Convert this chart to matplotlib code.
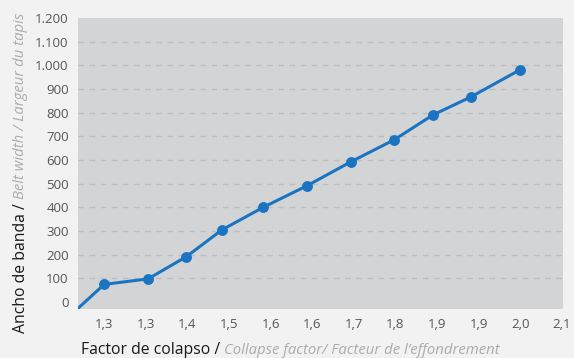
import matplotlib
matplotlib.use("Agg")
import matplotlib.pyplot as plt
from matplotlib.ticker import FuncFormatter

# Collapse factor vs. belt width
collapse_factor = [1.20, 1.26, 1.34, 1.41, 1.475, 1.55, 1.63, 1.71, 1.79, 1.86, 1.93, 2.02]
belt_width = [-52, 75, 98, 192, 305, 400, 491, 592, 686, 790, 867, 982]

x_ticks = [1.26, 1.336, 1.412, 1.488, 1.564, 1.64, 1.716, 1.792, 1.868, 1.944, 2.02, 2.096]
x_tick_labels = ["1,3", "1,3", "1,4", "1,5", "1,6", "1,6", "1,7", "1,8", "1,9", "1,9", "2,0", "2,1"]
y_ticks = [0, 100, 200, 300, 400, 500, 600, 700, 800, 900, 1000, 1100, 1200]

W, H = 574, 358
DPI = 100
FONT = "Open Sans"
BLUE = "#1a74c2"

fig = plt.figure(figsize=(W / DPI, H / DPI), dpi=DPI, facecolor="#f2f2f2")
left, right, top, bottom = 78.5, 563, 18, 308.5
ax = fig.add_axes([left / W, 1 - bottom / H, (right - left) / W, (bottom - top) / H])
ax.set_facecolor("#d3d4d6")

ax.plot(collapse_factor, belt_width, color=BLUE, lw=2.2, marker="o",
        ms=6.8, mfc=BLUE, mec=BLUE, zorder=3)

ax.set_xlim(1.213, 2.098)
ax.set_ylim(-27, 1200)

ax.set_xticks(x_ticks)
ax.set_xticklabels(x_tick_labels)
ax.set_yticks(y_ticks)
ax.yaxis.set_major_formatter(FuncFormatter(lambda v, p: f"{int(v):,}".replace(",", ".")))

for t in ax.get_xticklabels() + ax.get_yticklabels():
    t.set_fontfamily(FONT)
    t.set_fontsize(9.5)
    t.set_color("#555555")
ax.tick_params(axis="both", length=0)
ax.tick_params(axis="x", pad=7)
ax.tick_params(axis="y", pad=7)

for s in ax.spines.values():
    s.set_visible(False)

for yv in y_ticks[1:-1]:
    ax.axhline(yv, color="#bcbdbf", lw=1.0, ls=(0, (4, 4)), zorder=1)

fig.canvas.draw()
renderer = fig.canvas.get_renderer()

# x-axis title: Spanish in dark, translations in light italic
xt1 = fig.text(81 / W, 1 - 350 / H, "Factor de colapso / ", family=FONT, fontsize=11.3,
               color="#1a1a1a", ha="left", va="center")
bb = xt1.get_window_extent(renderer)
fig.text(bb.x1 / W, 1 - 350 / H, "Collapse factor/ Facteur de l\u2019effondrement",
         family=FONT, fontsize=10.7, style="italic", color="#ababab", ha="left", va="center")

# y-axis title, reading bottom to top
yt1 = fig.text(21 / W, 1 - 333 / H, "Ancho de banda / ", family=FONT, fontsize=11.3,
               color="#1a1a1a", rotation=90, ha="center", va="bottom")
bb = yt1.get_window_extent(renderer)
fig.text(21 / W, bb.y1 / H, "Belt width / Largeur du tapis", family=FONT, fontsize=10.7,
         style="italic", color="#ababab", rotation=90, ha="center", va="bottom")

fig.savefig("out.png", dpi=DPI, facecolor=fig.get_facecolor())
